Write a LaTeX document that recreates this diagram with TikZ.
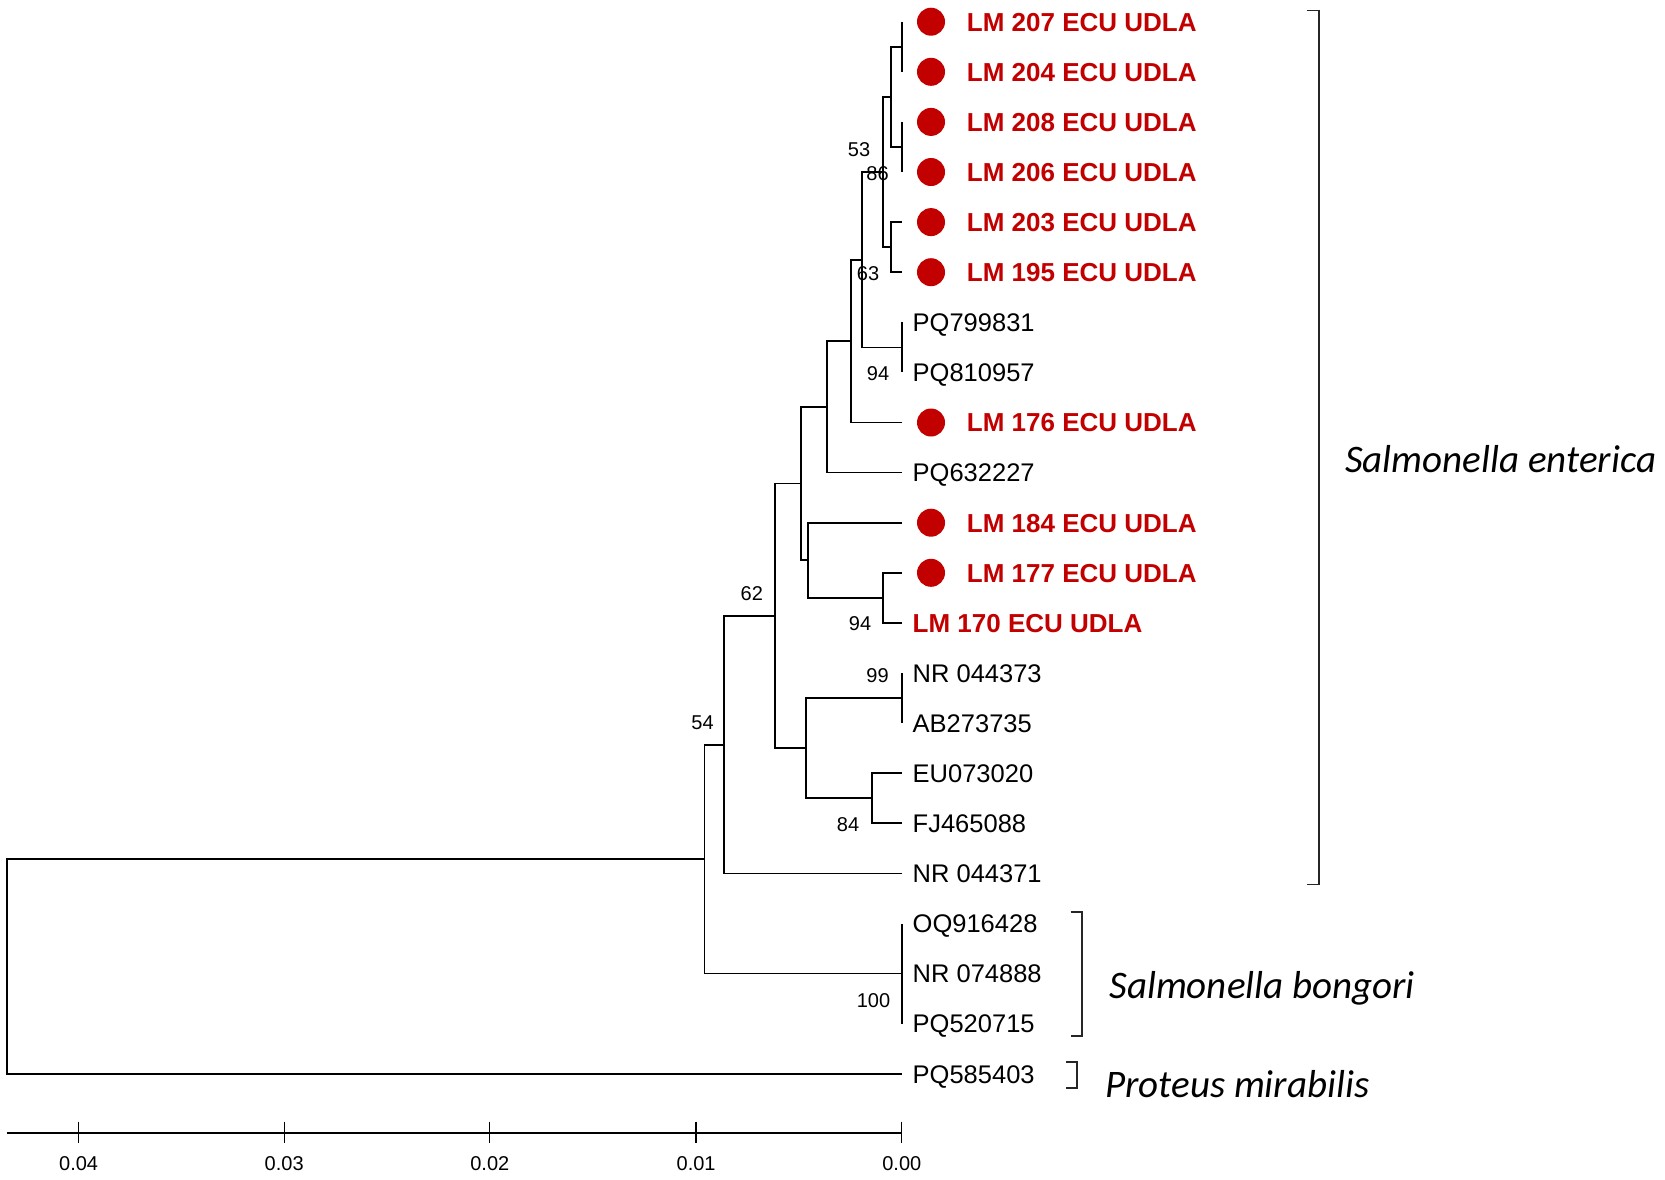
\documentclass[tikz,border=0pt]{standalone}
\usepackage{fontspec}
\setmainfont{Liberation Sans}
\newfontfamily\spfont{Carlito}
\definecolor{lmred}{RGB}{195,0,0}
\begin{document}
\begin{tikzpicture}[x=1pt,y=-1pt,
  branch/.style={draw=black,line width=1.7pt},
  brk/.style={draw=black!85,line width=1.7pt},
  leafblack/.style={anchor=base west,inner sep=0pt,font=\fontsize{25.5}{28}\selectfont},
  leafred/.style={anchor=base west,inner sep=0pt,text=lmred,font=\fontsize{26}{28}\selectfont\bfseries},
  dot/.style={circle,fill=lmred,draw=none,minimum size=28pt,inner sep=0pt},
  boot/.style={inner sep=0pt,font=\fontsize{20}{22}\selectfont},
  species/.style={anchor=base west,inner sep=0pt,font=\fontsize{39}{44}\selectfont\spfont\itshape},
  ticklab/.style={inner sep=0pt,font=\fontsize{20}{22}\selectfont}]
\path[fill=white,use as bounding box] (0,0) rectangle (1665,1179);

% leaf coordinates
\coordinate (l0) at (901.7,21.7);
\coordinate (l1) at (901.7,71.8);
\coordinate (l2) at (901.7,121.9);
\coordinate (l3) at (901.7,172.0);
\coordinate (l4) at (901.7,222.1);
\coordinate (l5) at (901.7,272.2);
\coordinate (l6) at (901.7,322.3);
\coordinate (l7) at (901.7,372.4);
\coordinate (l8) at (901.7,422.5);
\coordinate (l9) at (901.7,472.6);
\coordinate (l10) at (901.7,522.7);
\coordinate (l11) at (901.7,572.8);
\coordinate (l12) at (901.7,622.9);
\coordinate (l13) at (901.7,673.0);
\coordinate (l14) at (901.7,723.1);
\coordinate (l15) at (901.7,773.2);
\coordinate (l16) at (901.7,823.3);
\coordinate (l17) at (901.7,873.4);
\coordinate (l18) at (901.7,923.5);
\coordinate (l19) at (901.7,973.6);
\coordinate (l20) at (901.7,1023.7);
\coordinate (l21) at (901.7,1073.8);

% internal nodes
\coordinate (n01) at (901.7,46.75);
\coordinate (n23) at (901.7,147.0);
\coordinate (n0123) at (891,96.9);
\coordinate (n45) at (891,247.15);
\coordinate (n05) at (882.7,172.0);
\coordinate (n67) at (901.7,347.35);
\coordinate (n07) at (862.3,259.7);
\coordinate (n08) at (850.7,341.1);
\coordinate (n09) at (827.3,406.85);
\coordinate (n1112) at (882.7,597.85);
\coordinate (n1012) at (808.3,560.3);
\coordinate (n012) at (801,483.6);
\coordinate (n1314) at (901.7,698.05);
\coordinate (n1516) at (872.3,798.25);
\coordinate (n1316) at (805.7,748.15);
\coordinate (n016) at (775,615.9);
\coordinate (n017) at (724.3,744.65);
\coordinate (nB) at (901.7,973.6);
\coordinate (nS) at (704.5,859.1);
\coordinate (root) at (7,966.5);

% branches
\draw[branch] (n01) |- (l0) (n01) |- (l1);
\draw[branch] (n23) |- (l2) (n23) |- (l3);
\draw[branch] (n0123) |- (n01) (n0123) |- (n23);
\draw[branch] (n45) |- (l4) (n45) |- (l5);
\draw[branch] (n05) |- (n0123) (n05) |- (n45);
\draw[branch] (n67) |- (l6) (n67) |- (l7);
\draw[branch] (n07) |- (n05) (n07) |- (n67);
\draw[branch] (n08) |- (n07) (n08) |- (l8);
\draw[branch] (n09) |- (n08) (n09) |- (l9);
\draw[branch] (n1112) |- (l11) (n1112) |- (l12);
\draw[branch] (n1012) |- (l10) (n1012) |- (n1112);
\draw[branch] (n012) |- (n09) (n012) |- (n1012);
\draw[branch] (n1314) |- (l13) (n1314) |- (l14);
\draw[branch] (n1516) |- (l15) (n1516) |- (l16);
\draw[branch] (n1316) |- (n1314) (n1316) |- (n1516);
\draw[branch] (n016) |- (n012) (n016) |- (n1316);
\draw[branch] (n017) |- (n016) (n017) |- (l17);
\draw[branch] (nB) |- (l18) (nB) |- (l19) (nB) |- (l20);
\draw[branch] (nS) |- (n017) (nS) |- (nB);
\draw[branch] (root) |- (nS) (root) |- (l21);

% red dots
\foreach \i in {0,1,2,3,4,5,8,10,11} {
  \node[dot] (d\i) at ([xshift=29.3pt]l\i) {};
}

% leaf labels
\node[leafred] (t0) at (966.7,31.0) {LM 207 ECU UDLA};
\node[leafred] (t1) at (966.7,81.1) {LM 204 ECU UDLA};
\node[leafred] (t2) at (966.7,131.2) {LM 208 ECU UDLA};
\node[leafred] (t3) at (966.7,181.3) {LM 206 ECU UDLA};
\node[leafred] (t4) at (966.7,231.4) {LM 203 ECU UDLA};
\node[leafred] (t5) at (966.7,281.5) {LM 195 ECU UDLA};
\node[leafblack] (t6) at (912.5,331.5) {PQ799831};
\node[leafblack] (t7) at (912.5,381.6) {PQ810957};
\node[leafred] (t8) at (966.7,431.8) {LM 176 ECU UDLA};
\node[leafblack] (t9) at (912.5,481.8) {PQ632227};
\node[leafred] (t10) at (966.7,532.0) {LM 184 ECU UDLA};
\node[leafred] (t11) at (966.7,582.1) {LM 177 ECU UDLA};
\node[leafred] (t12) at (912.5,632.2) {LM 170 ECU UDLA};
\node[leafblack] (t13) at (912.5,682.2) {NR 044373};
\node[leafblack] (t14) at (912.5,732.3) {AB273735};
\node[leafblack] (t15) at (912.5,782.4) {EU073020};
\node[leafblack] (t16) at (912.5,832.5) {FJ465088};
\node[leafblack] (t17) at (912.5,882.6) {NR 044371};
\node[leafblack] (t18) at (912.5,932.7) {OQ916428};
\node[leafblack] (t19) at (912.5,982.8) {NR 074888};
\node[leafblack] (t20) at (912.5,1032.9) {PQ520715};
\node[leafblack] (t21) at (912.5,1083.0) {PQ585403};

% bootstrap values
\node[boot] (b53) at (859,150) {53};
\node[boot] (b86) at (877.5,173.5) {86};
\node[boot] (b63) at (868,274) {63};
\node[boot] (b94a) at (878,374) {94};
\node[boot] (b62) at (751.8,594) {62};
\node[boot] (b94b) at (860,624) {94};
\node[boot] (b99) at (877.5,676) {99};
\node[boot] (b54) at (702.5,723) {54};
\node[boot] (b84) at (848,825) {84};
\node[boot] (b100) at (873.5,1001) {100};

% brackets
\coordinate (e1) at (1306.7,10.6);
\coordinate (e2) at (1306.7,884.6);
\draw[brk] (e1) -| (1319.3,884.6) -- (e2);
\coordinate (g1) at (1070.7,911.7);
\coordinate (g2) at (1070.7,1036);
\draw[brk] (g1) -| (1082.3,1036) -- (g2);
\coordinate (p1) at (1066,1061.7);
\coordinate (p2) at (1066,1087.7);
\draw[brk] (p1) -| (1077.3,1087.7) -- (p2);

\node[species] (se) at (1345,472.5) {Salmonella enterica};
\node[species] (sb) at (1109.3,998) {Salmonella bongori};
\node[species] (pm) at (1105,1097) {Proteus mirabilis};

% scale axis
\coordinate (ax0) at (7,1133.3);
\coordinate (ax1) at (901.8,1133.3);
\draw[branch] (ax0) -- (ax1);
\foreach \x/\lab/\nm in {78.6/0.04/k4,284.2/0.03/k3,489.8/0.02/k2,696.1/0.01/k1,901.8/0.00/k0} {
  \draw[branch,line width=1.3pt] (\x,1121.7) -- (\x,1143.3);
  \node[ticklab] (\nm) at (\x,1163.5) {\lab};
}
\end{tikzpicture}
\end{document}
